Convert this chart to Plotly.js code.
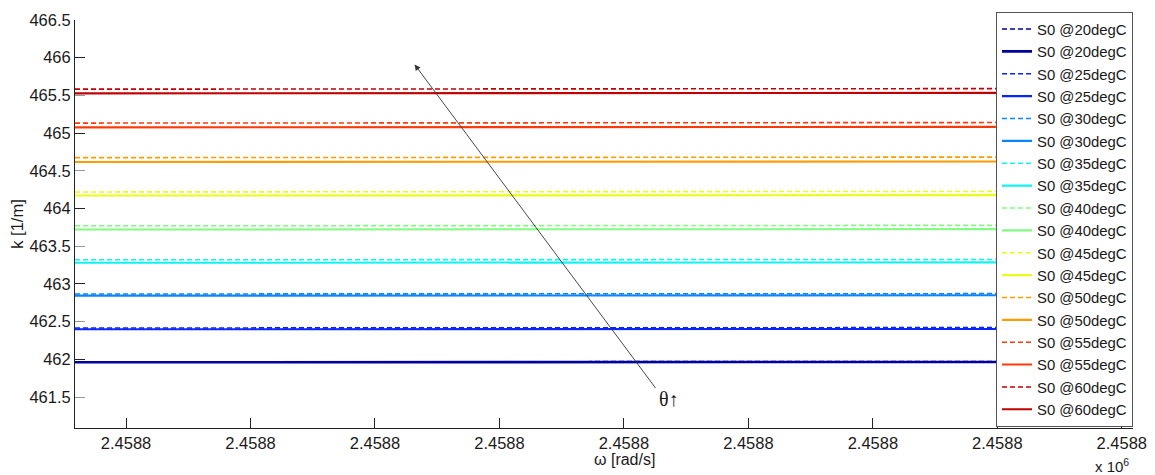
<!DOCTYPE html>
<html>
<head>
<meta charset="utf-8">
<script src="https://cdn.plot.ly/plotly-3.0.1.min.js"></script>
<style>html,body{margin:0;padding:0;background:#fff;}#chart{width:1155px;height:475px;}</style>
</head>
<body>
<div id="chart"></div>
<script>
// ---- data ----
var temps = ['20', '25', '30', '35', '40', '45', '50', '55', '60'];
var omega = [2458797.95, 2458819.2, 2458840.45];
var kDashed20 = [461.967, 461.968, 461.972];
var kSolid20  = [461.962, 461.963, 461.966];
var kDashed25 = [462.416, 462.418, 462.422];
var kSolid25  = [462.399, 462.400, 462.404];
var kDashed30 = [462.867, 462.868, 462.872];
var kSolid30  = [462.845, 462.846, 462.850];
var kDashed35 = [463.320, 463.322, 463.326];
var kSolid35  = [463.281, 463.283, 463.287];
var kDashed40 = [463.771, 463.773, 463.778];
var kSolid40  = [463.722, 463.724, 463.728];
var kDashed45 = [464.220, 464.222, 464.228];
var kSolid45  = [464.172, 464.174, 464.179];
var kDashed50 = [464.675, 464.677, 464.683];
var kSolid50  = [464.617, 464.619, 464.625];
var kDashed55 = [465.133, 465.135, 465.141];
var kSolid55  = [465.076, 465.078, 465.083];
var kDashed60 = [465.583, 465.585, 465.591];
var kSolid60  = [465.527, 465.529, 465.534];
var dashedSeries = [kDashed20, kDashed25, kDashed30, kDashed35, kDashed40, kDashed45, kDashed50, kDashed55, kDashed60];
var solidSeries  = [kSolid20, kSolid25, kSolid30, kSolid35, kSolid40, kSolid45, kSolid50, kSolid55, kSolid60];
var xTickVals = [2458800, 2458805, 2458810, 2458815, 2458820, 2458825, 2458830, 2458835, 2458840];
var xTickText = ['2.4588', '2.4588', '2.4588', '2.4588', '2.4588', '2.4588', '2.4588', '2.4588', '2.4588'];
var yTickVals = [461.5, 462, 462.5, 463, 463.5, 464, 464.5, 465, 465.5, 466, 466.5];
var yIntTicks = [462, 463, 464, 465, 466];

// ---- styling ----
var colors = ['#00009C', '#0A24FF', '#0A84FF', '#12F2F2', '#82FA82', '#EAFA1A', '#FF9C00', '#FF3A0A', '#C00000'];
var font = 'Liberation Sans, Arial, sans-serif';

var traces = [];
for (var i = 0; i < temps.length; i++) {
  traces.push({
    x: omega, y: dashedSeries[i], type: 'scatter', mode: 'lines',
    name: 'S0 @' + temps[i] + 'degC',
    line: {color: colors[i], width: 1.6, dash: '5px,3px'},
    hoverinfo: 'skip'
  });
  traces.push({
    x: omega, y: solidSeries[i], type: 'scatter', mode: 'lines',
    name: 'S0 @' + temps[i] + 'degC',
    line: {color: colors[i], width: i === 0 ? 2.6 : 2.1},
    hoverinfo: 'skip'
  });
}
traces.push({x: [], y: [], yaxis: 'y2', showlegend: false, hoverinfo: 'skip', type: 'scatter', mode: 'lines'});

var yRange = [461.09, 466.5];
var layout = {
  width: 1155, height: 475,
  margin: {l: 75, r: 22, t: 15, b: 47},
  paper_bgcolor: '#fff', plot_bgcolor: '#fff',
  font: {family: font, size: 16.5, color: '#1a1a1a'},
  showlegend: true,
  xaxis: {
    range: [2458797.95, 2458840.45],
    tickvals: xTickVals, ticktext: xTickText,
    ticks: 'inside', ticklen: 10, tickcolor: '#222', tickwidth: 1,
    showline: true, linecolor: '#222', linewidth: 1,
    showgrid: false, zeroline: false,
    tickfont: {family: font, size: 16.5, color: '#1a1a1a'}
  },
  yaxis: {
    range: yRange,
    tickvals: yTickVals,
    ticktext: yTickVals.map(function (v) { return String(v); }),
    ticks: 'inside', ticklen: 10, tickcolor: '#999', tickwidth: 1,
    showline: true, linecolor: '#222', linewidth: 1,
    showgrid: false, zeroline: false,
    tickfont: {family: font, size: 16.5, color: '#1a1a1a'},
    title: {text: 'k [1/m]', font: {family: font, size: 16.5, color: '#1a1a1a'}, standoff: 1}
  },
  yaxis2: {
    overlaying: 'y', side: 'left', range: yRange,
    tickvals: yIntTicks, showticklabels: false,
    ticks: 'inside', ticklen: 10, tickcolor: '#222', tickwidth: 1,
    showline: false, showgrid: false, zeroline: false
  },
  legend: {
    x: 1, xanchor: 'right', y: 1.02, yanchor: 'top',
    bgcolor: '#fff', bordercolor: '#555', borderwidth: 1,
    font: {family: font, size: 14.9, color: '#1a1a1a'},
    tracegroupgap: 0, itemwidth: 30, maxheight: 470
  },
  annotations: [
    {
      xref: 'paper', yref: 'paper', x: 0.321, y: 0.891,
      ax: 242, ay: 325, axref: 'pixel', ayref: 'pixel',
      showarrow: true, arrowhead: 2, arrowsize: 1.3, arrowwidth: 0.9, arrowcolor: '#333',
      text: ''
    },
    {
      xref: 'paper', yref: 'paper', x: (669 - 75) / 1058, y: (428 - 399) / 413,
      xanchor: 'center', yanchor: 'middle', showarrow: false,
      text: 'θ↑', font: {family: 'Liberation Serif, Times New Roman, serif', size: 20, color: '#1a1a1a'}
    },
    {
      xref: 'paper', yref: 'paper', x: (624 - 75) / 1058, y: -(460 - 428) / 413,
      xanchor: 'center', yanchor: 'middle', showarrow: false,
      text: 'ω [rad/s]', font: {family: font, size: 16, color: '#1a1a1a'}
    },
    {
      xref: 'paper', yref: 'paper', x: (1112 - 75) / 1058, y: -(466 - 428) / 413,
      xanchor: 'center', yanchor: 'middle', showarrow: false,
      text: 'x 10<sup>6</sup>', font: {family: font, size: 15, color: '#1a1a1a'}
    }
  ]
};

Plotly.newPlot('chart', traces, layout, {displayModeBar: false, staticPlot: true});
</script>
</body>
</html>
